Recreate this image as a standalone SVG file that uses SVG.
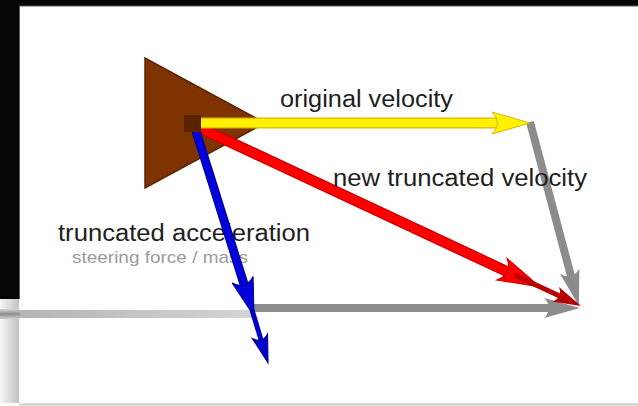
<svg xmlns="http://www.w3.org/2000/svg" width="638" height="406" viewBox="0 0 638 406">
<style>
.lbl{font-family:"Liberation Sans",Arial,sans-serif;font-size:23px;fill:#1e1e1e}
.sub{font-family:"Liberation Sans",Arial,sans-serif;font-size:17px;fill:#9a9a9a}
.sh{fill:none;stroke-linecap:butt}
</style>
<defs>
<linearGradient id="bandL" x1="0" y1="0" x2="0" y2="1">
<stop offset="0" stop-color="#d8d8d8"/><stop offset="0.5" stop-color="#8c8c8c"/><stop offset="1" stop-color="#d0d0d0"/>
</linearGradient>
<linearGradient id="bandR" x1="0" y1="0" x2="1" y2="0">
<stop offset="0" stop-color="#b4b4b4"/><stop offset="1" stop-color="#d4d4d4"/>
</linearGradient>
<linearGradient id="edgeL" x1="0" y1="0" x2="1" y2="0">
<stop offset="0" stop-color="#f6f6f6"/><stop offset="1" stop-color="#c2c2c2"/>
</linearGradient>
<marker id="hY" markerUnits="userSpaceOnUse" orient="auto" refX="-19" refY="0" markerWidth="1" markerHeight="1" overflow="visible">
<path d="M0,0 L-38,-11 Q-27,0 -38,11 Z" fill="#FFF200" stroke="#DDB400" stroke-width="1"/>
</marker>
<marker id="hG" markerUnits="userSpaceOnUse" orient="auto" refX="-18" refY="0" markerWidth="1" markerHeight="1" overflow="visible">
<path d="M0,0 L-36,-10 Q-26,0 -36,10 Z" fill="#8c8c8c"/>
</marker>
<marker id="hR" markerUnits="userSpaceOnUse" orient="auto" refX="-21" refY="0" markerWidth="1" markerHeight="1" overflow="visible">
<path d="M0,0 L-42,-12 Q-30,0 -42,12 Z" fill="#FF0000" stroke="#C80000" stroke-width="1"/>
</marker>
<marker id="hDR" markerUnits="userSpaceOnUse" orient="auto" refX="-14" refY="0" markerWidth="1" markerHeight="1" overflow="visible">
<path d="M0,0 L-28,-8 Q-20,0 -28,8 Z" fill="#B80000"/>
</marker>
<marker id="hB" markerUnits="userSpaceOnUse" orient="auto" refX="-19" refY="0" markerWidth="1" markerHeight="1" overflow="visible">
<path d="M0,0 L-38,-11 Q-27,0 -38,11 Z" fill="#0000DD" stroke="#000088" stroke-width="1"/>
</marker>
<marker id="hB2" markerUnits="userSpaceOnUse" orient="auto" refX="-14" refY="0" markerWidth="1" markerHeight="1" overflow="visible">
<path d="M0,0 L-28,-8 Q-20,0 -28,8 Z" fill="#0000CC" stroke="#000088" stroke-width="1"/>
</marker>
</defs>

<g id="background">
<rect x="0" y="0" width="638" height="406" fill="#ffffff"/>
<rect x="0" y="0" width="638" height="6" fill="#050505"/>
<rect x="0" y="0" width="19" height="299" fill="#050505"/>
<line x1="19" y1="6" x2="638" y2="6" stroke="#5a5a5a" stroke-width="1"/>
<line x1="19.5" y1="6" x2="19.5" y2="299" stroke="#5a5a5a" stroke-width="1"/>
<rect x="0" y="299" width="19" height="104" fill="url(#edgeL)"/>
<rect x="0" y="309" width="20" height="10" fill="url(#bandL)"/>
<rect x="20" y="310" width="232" height="8" fill="url(#bandR)"/>
<line x1="19" y1="404.5" x2="638" y2="404.5" stroke="#cccccc" stroke-width="2"/>
</g>

<g id="vehicle">
<polygon points="145,58 145,188 265,123" fill="#7F3300" stroke="#5A2400" stroke-width="1.5"/>
</g>

<g id="accel-labels">
<text class="lbl" x="58" y="241" textLength="252" lengthAdjust="spacingAndGlyphs">truncated acceleration</text>
<text class="sub" x="72" y="263" textLength="176" lengthAdjust="spacingAndGlyphs">steering force / mass</text>
</g>

<g id="connectors">
<line class="sh" x1="253" y1="308" x2="562" y2="308" stroke="#8c8c8c" stroke-width="8" marker-end="url(#hG)"/>
<line class="sh" x1="530" y1="122" x2="574.3" y2="288.6" stroke="#8c8c8c" stroke-width="8" marker-end="url(#hG)"/>
<line class="sh" x1="198" y1="127" x2="521" y2="278.1" stroke="#C80000" stroke-width="11"/>
<line class="sh" x1="198" y1="127" x2="521" y2="278.1" stroke="#FF0000" stroke-width="8.5" marker-end="url(#hR)"/>
<line class="sh" x1="515" y1="275.3" x2="568.3" y2="300.1" stroke="#B80000" stroke-width="5" marker-end="url(#hDR)"/>
<line class="sh" x1="252" y1="310" x2="264" y2="349.6" stroke="#0000CC" stroke-width="5" marker-end="url(#hB2)"/>
<line class="sh" x1="196" y1="131" x2="248.3" y2="297.9" stroke="#000088" stroke-width="9"/>
<line class="sh" x1="196" y1="131" x2="248.3" y2="297.9" stroke="#0000DD" stroke-width="7" marker-end="url(#hB)"/>
<line class="sh" x1="200" y1="123" x2="511" y2="123" stroke="#DDB400" stroke-width="11"/>
<line class="sh" x1="200" y1="123" x2="511" y2="123" stroke="#FFF200" stroke-width="8.5" marker-end="url(#hY)"/>
</g>

<g id="origin">
<rect x="184" y="115" width="17" height="17" fill="#5A2200"/>
</g>

<g id="velocity-labels">
<text class="lbl" x="280" y="107" textLength="173" lengthAdjust="spacingAndGlyphs">original velocity</text>
<text class="lbl" x="333" y="186" textLength="254" lengthAdjust="spacingAndGlyphs">new truncated velocity</text>
</g>
</svg>
